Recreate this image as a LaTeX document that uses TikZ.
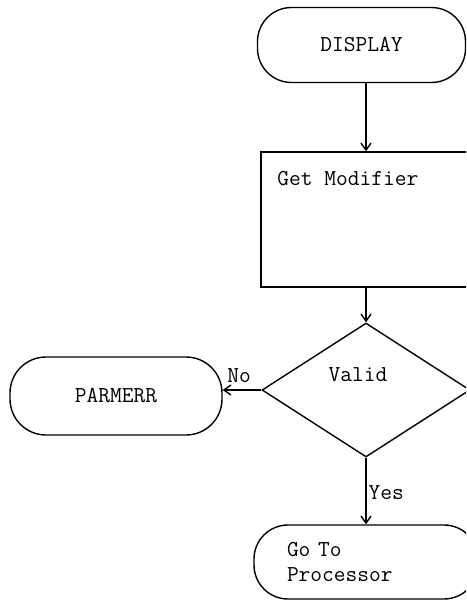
\documentclass[tikz,border=0pt]{standalone}
\usetikzlibrary{shapes.geometric, arrows.meta, positioning}
\tikzset{
	terminal/.style={rectangle, rounded corners=17pt, minimum width=104pt, minimum height=37.5pt, draw=black, line width=0.7pt, font=\ttfamily\fontsize{11.4}{12.5}\selectfont},
	process/.style ={rectangle, minimum width=105pt, minimum height=67.5pt, draw=black, line width=0.7pt},
	decision/.style={diamond, minimum width=104pt, minimum height=67pt, inner sep=0pt, draw=black, line width=0.7pt},
	flowarrow/.style={-{Straight Barb[length=3.5pt, width=5pt]}, line width=0.7pt},
	% plain text in the chart
	chtext/.style={font=\ttfamily\fontsize{11.4}{12.5}\selectfont},
}
\begin{document}
\begin{tikzpicture}[x=0.5pt, y=-0.5pt]
	\useasboundingbox (0,0) rectangle (466,603);
	\clip (0,0) rectangle (466,603);
	\node[terminal] (display) at (361.5,45) {DISPLAY};
	\node[process] (getmod) at (366,219.5) {};
	\node[chtext, below right=6.5pt and 5pt of getmod.north west] (getmodtxt) {Get Modifier};
	\node[decision] (valid) at (366,390) {};
	\node[chtext] (validtxt) at ([xshift=-4pt, yshift=7.5pt]valid.center) {Valid};
	\node[terminal, minimum width=106pt, minimum height=39pt, rounded corners=18pt] (parmerr) at (116,396) {PARMERR};
	\node[terminal, minimum width=112pt, minimum height=37pt, text width=79pt, align=left] (goto) at (366,562) {Go To\\Processor};
	\draw[flowarrow] (display.south -| getmod.north) -- (getmod.north);
	\draw[flowarrow] (getmod) -- (valid);
	\draw[flowarrow] (valid.west) -- node[chtext, above, pos=0.575] (no) {No} (valid.west -| parmerr.east);
	\draw[flowarrow] (valid.south) -- node[chtext, right, inner sep=1pt, pos=0.53] (yes) {Yes} (goto);
\end{tikzpicture}
\end{document}
